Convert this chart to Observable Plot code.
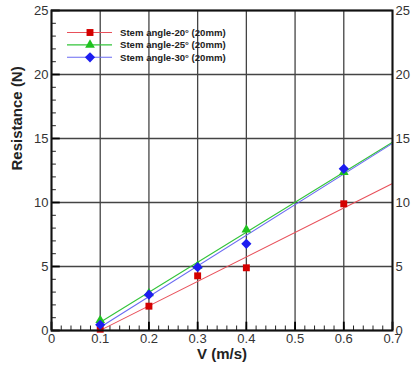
<!DOCTYPE html>
<html>
<head>
<meta charset="utf-8">
<script src="https://cdn.jsdelivr.net/npm/d3@7"></script>
<script src="https://cdn.jsdelivr.net/npm/@observablehq/plot@0.6"></script>
<style>
  html, body { margin: 0; padding: 0; background: #fff; }
  #chart svg { display: block; }
</style>
</head>
<body>
<div id="chart"></div>
<script>
// ---- data ----
const speeds = [0.1, 0.2, 0.3, 0.4, 0.6];
const stem20 = [0.1, 1.9, 4.27, 4.9, 9.9];
const stem25 = [0.8, 2.9, 5.05, 7.87, 12.37];
const stem30 = [0.45, 2.8, 4.95, 6.77, 12.63];
const seriesNames = ["Stem angle-20° (20mm)", "Stem angle-25° (20mm)", "Stem angle-30° (20mm)"];
const fitSpan = [0.1, 0.7];
const xTicks = [0, 0.1, 0.2, 0.3, 0.4, 0.5, 0.6, 0.7];
const yTicks = [0, 5, 10, 15, 20, 25];
const xMinor = d3.range(0, 0.7001, 0.02);
const yMinor = d3.range(0, 25.001, 1);

const markerColors = ["#d40000", "#1fc21f", "#1d1df0"];
const lineColors = ["#e8505a", "#33c43a", "#6a6af2"];
const symbols = ["square", "triangle", "diamond2"];
const symbolR = [3.9, 3.6, 4.6];

const allSeries = [stem20, stem25, stem30];
const points = [];
allSeries.forEach((vals, s) => speeds.forEach((v, i) => points.push({series: s, v, r: vals[i]})));

// least-squares trend line for each series, evaluated over the fit span
const fits = [];
allSeries.forEach((vals, s) => {
  const mx = d3.mean(speeds), my = d3.mean(vals);
  const sxy = d3.sum(speeds, (x, i) => (x - mx) * (vals[i] - my));
  const sxx = d3.sum(speeds, x => (x - mx) ** 2);
  const b = sxy / sxx, a = my - b * mx;
  fitSpan.forEach(x => fits.push({series: s, v: x, r: a + b * x}));
});

const font = "Arial, 'Liberation Sans', sans-serif";

const chart = Plot.plot({
  width: 411,
  height: 367,
  marginLeft: 51,
  marginRight: 19,
  marginTop: 10,
  marginBottom: 37,
  style: {fontFamily: font, background: "#fff"},
  x: {domain: [0, 0.7]},
  y: {domain: [0, 25]},
  marks: [
    Plot.gridX(xTicks, {stroke: "#444", strokeOpacity: 1, strokeWidth: 1.3}),
    Plot.gridY(yTicks, {stroke: "#444", strokeOpacity: 1, strokeWidth: 1.3}),
    // minor ticks (inward)
    Plot.ruleX(xMinor, {y1: 0, y2: 0.35, stroke: "#222", strokeWidth: 1}),
    Plot.ruleY(yMinor, {x1: 0, x2: 0.01, stroke: "#222", strokeWidth: 1}),
    // major ticks (inward)
    Plot.ruleX(xTicks, {y1: 0, y2: 0.65, stroke: "#000", strokeWidth: 1.8}),
    Plot.ruleY(yTicks, {x1: 0, x2: 0.018, stroke: "#000", strokeWidth: 1.8}),
    Plot.axisX(xTicks, {anchor: "bottom", tickSize: 0, tickPadding: 3, fontSize: 13, fill: "#333",
      tickFormat: d => d === 0 ? "0" : d.toFixed(1), label: null}),
    Plot.axisY(yTicks, {anchor: "left", tickSize: 0, tickPadding: 3, fontSize: 13, fill: "#333", label: null}),
    Plot.axisY(yTicks, {anchor: "right", tickSize: 0, tickPadding: 3, fontSize: 13, fill: "#333", label: null}),
    // trend lines
    ...[0, 1, 2].map(s => Plot.line(fits.filter(d => d.series === s), {
      x: "v", y: "r", stroke: lineColors[s], strokeWidth: 1.1
    })),
    // markers
    ...[0, 1, 2].map(s => Plot.dot(points.filter(d => d.series === s), {
      x: "v", y: "r", symbol: symbols[s], r: symbolR[s], fill: markerColors[s], stroke: "none"
    })),
    Plot.frame({stroke: "#111", strokeWidth: 2}),
    Plot.text(["Resistance (N)"], {frameAnchor: "left", dx: -34, rotate: -90, text: d => d,
      fontSize: 15, fontWeight: "bold", fill: "#222"}),
    Plot.text(["V (m/s)"], {frameAnchor: "bottom", dy: 28, text: d => d,
      fontSize: 15, fontWeight: "bold", fill: "#222"})
  ]
});
document.getElementById("chart").appendChild(chart);

// legend inside the plot area (top-left)
const svg = d3.select(chart);
const lg = svg.append("g").attr("font-family", font).attr("text-anchor", "start");
seriesNames.forEach((name, s) => {
  const y = 32.5 + s * 12.4;
  lg.append("line").attr("x1", 67).attr("x2", 112).attr("y1", y).attr("y2", y)
    .attr("stroke", lineColors[s]).attr("stroke-width", 1.1);
  const sym = {square: d3.symbolSquare, triangle: d3.symbolTriangle, diamond2: d3.symbolDiamond2}[symbols[s]];
  lg.append("path").attr("transform", `translate(90,${y})`)
    .attr("d", d3.symbol(sym, Math.PI * symbolR[s] * symbolR[s])())
    .attr("fill", markerColors[s]);
  lg.append("text").attr("x", 120).attr("y", y).attr("dy", "0.35em").attr("text-anchor", "start")
    .attr("font-size", 9.6).attr("font-weight", "bold").attr("fill", "#222").text(name);
});
</script>
</body>
</html>
